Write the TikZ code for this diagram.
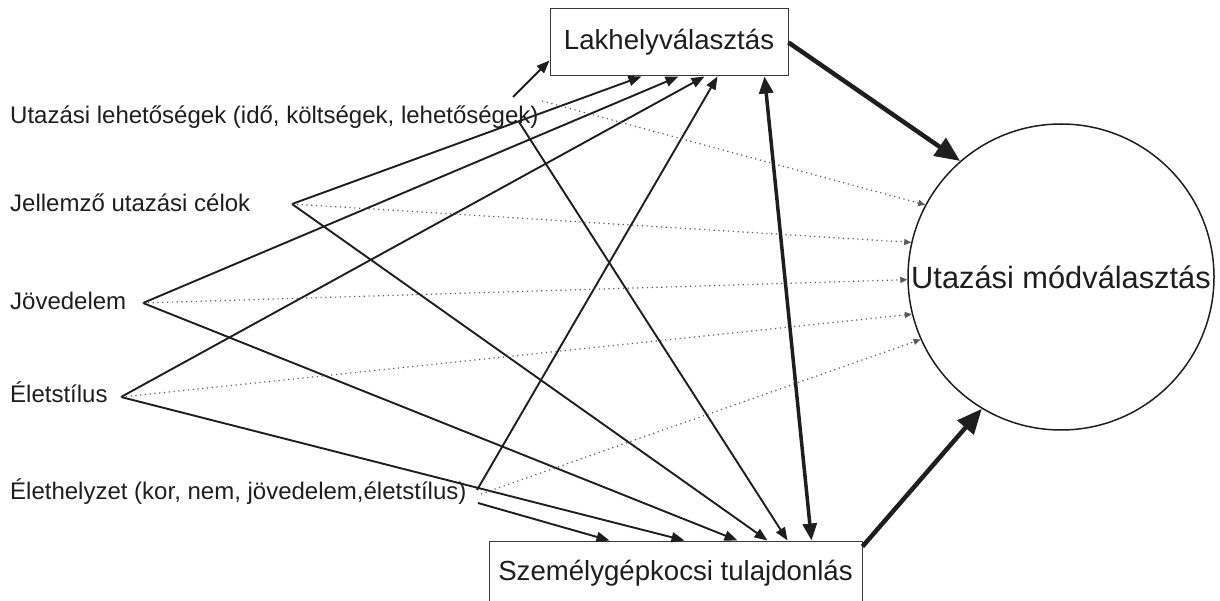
\documentclass[tikz,border=0pt]{standalone}
\usepackage{fontspec}
\setmainfont{Liberation Sans}
\usetikzlibrary{positioning, arrows.meta}
\definecolor{ink}{HTML}{1E1E1E}
\definecolor{dotc}{HTML}{5A5A5A}
\definecolor{frame}{HTML}{3A3A3A}

\begin{document}
\begin{tikzpicture}[
  x=1pt, y={(0,-1pt)},
  font=\fontsize{24}{28}\selectfont,
  factor/.style={anchor=base west, inner sep=0pt, text=ink},
  choice/.style={draw=frame, line width=1pt, fill=white, text=ink, inner sep=0pt,
                 font=\fontsize{27.6}{32}\selectfont},
  mode/.style={circle, draw=ink, line width=1.5pt, inner sep=0pt,
               minimum size=306pt, text=ink, font=\fontsize{30.8}{36}\selectfont},
  arr/.style={-{Triangle[length=13pt, width=10pt]}, line width=1.9pt, draw=ink},
  big/.style={-{Triangle[length=25pt, width=21pt]}, line width=4.5pt, draw=ink},
  both/.style={{Triangle[length=17pt, width=14pt]}-{Triangle[length=17pt, width=14pt]},
               line width=3.5pt, draw=ink},
  weak/.style={-{Triangle[length=7pt, width=6pt]}, line width=1.2pt, draw=dotc,
               dash pattern=on 1.2pt off 3.6pt},
]
\useasboundingbox (0,0) rectangle (1220,601);

% ── choices ──────────────────────────────────────────────────────────────────
\node[choice, minimum width=238pt, minimum height=67pt] (lak) at (669,42.5)
    {Lakhelyválasztás};
\node[choice, minimum width=373pt, minimum height=64pt] (auto) at (675.5,573)
    {Személygépkocsi tulajdonlás};
\node[mode] (mod) at (1061,277) {Utazási módválasztás};

% ── factors ──────────────────────────────────────────────────────────────────
\node[factor] (lehet) at (10,124) {Utazási lehetőségek (idő, költségek, lehetőségek)};
\node[factor] (celok) at (10,212) {Jellemző utazási célok};
\node[factor] (jov)   at (10,310) {Jövedelem};
\node[factor] (elet)  at (10,402) {Életstílus};
\node[factor] (helyz) at (10,499) {Élethelyzet (kor, nem, jövedelem,életstílus)};

% fan-out points beside the factors
\coordinate (lehet-a) at (513,97);
\coordinate (lehet-b) at (519,122);
\coordinate (lehet-c) at (542,101);
\coordinate (celok-o) at (292,204);
\coordinate (jov-o)   at (143,303);
\coordinate (elet-o)  at (121,397);
\coordinate (helyz-a) at (477,490);
\coordinate (helyz-b) at (481,494);
\coordinate (helyz-c) at (478,503);

% ── into Lakhelyválasztás ────────────────────────────────────────────────────
\draw[arr] (lehet-a) -- ([yshift=16pt]lak.south west);
\draw[arr] (celok-o) -- ([xshift=92pt]lak.south west);
\draw[arr] (jov-o)   -- ([xshift=129pt]lak.south west);
\draw[arr] (elet-o)  -- ([xshift=155pt]lak.south west);
\draw[arr] (helyz-a) -- ([xshift=168pt]lak.south west);

% ── into Személygépkocsi tulajdonlás ─────────────────────────────────────────
\draw[arr] (lehet-b) -- ([xshift=299pt]auto.north west);
\draw[arr] (celok-o) -- ([xshift=279pt]auto.north west);
\draw[arr] (jov-o)   -- ([xshift=249pt]auto.north west);
\draw[arr] (elet-o)  -- ([xshift=196pt]auto.north west);
\draw[arr] (helyz-c) -- ([xshift=121pt]auto.north west);

% ── direct (weak) links to mode choice ───────────────────────────────────────
\draw[weak] (lehet-c) -- (mod.152);
\draw[weak] (celok-o) -- (mod.167);
\draw[weak] (jov-o)   -- (mod.181);
\draw[weak] (elet-o)  -- (mod.194);
\draw[weak] (helyz-b) -- (mod.204);

% ── strong links ─────────────────────────────────────────────────────────────
\draw[both] ([xshift=215pt]lak.south west) -- ([xshift=323pt]auto.north west);
\draw[big] (lak.east) -- (mod.131);
\draw[big] ([yshift=-6pt]auto.north east) -- (mod.239);

\end{tikzpicture}
\end{document}
